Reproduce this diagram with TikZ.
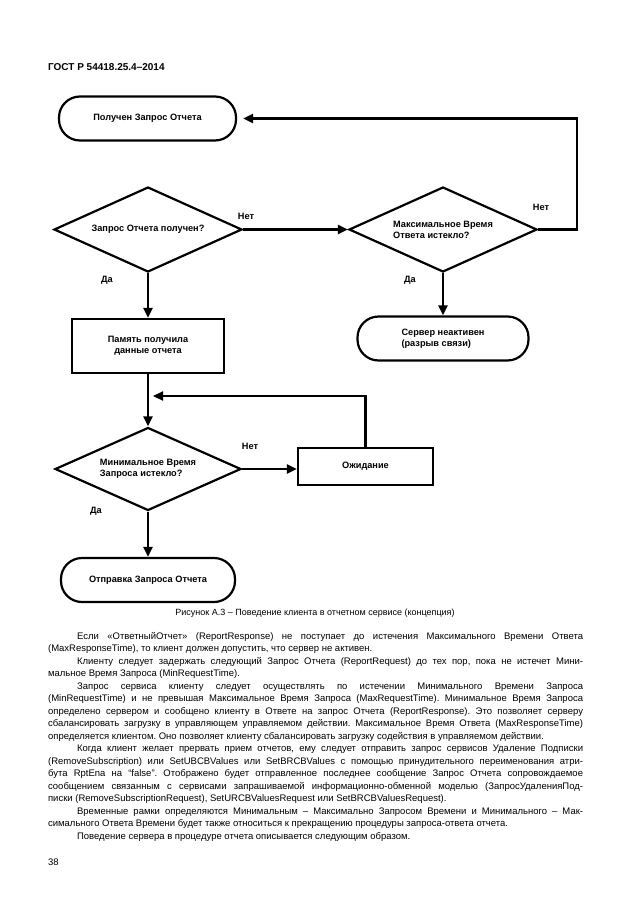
\documentclass[tikz,border=0pt]{standalone}
\usepackage{fontspec}
\setmainfont{Liberation Sans}
\usetikzlibrary{shapes.geometric,arrows.meta}

\begin{document}
\begin{tikzpicture}[x=1pt,y=-1pt,line width=2.2pt,>={Triangle[length=10pt,width=9pt]},
		flow/.style={font=\bfseries\fontsize{9.2}{11}\selectfont,inner sep=0pt},
		term/.style={flow,draw,rounded corners=21pt,minimum width=#1,minimum height=44pt,align=left},
		box/.style={flow,draw,align=center},
		ask/.style={flow,draw,diamond,aspect=2.2,minimum width=188pt,minimum height=85pt,align=left},
		lbl/.style={flow}]
	\useasboundingbox (0,0) rectangle (630,913);
	\node[anchor=west,inner sep=0pt,font=\bfseries\fontsize{10}{12}\selectfont] (head) at (47,67) {ГОСТ Р 54418.25.4–2014};
	% flowchart
	\node[term=177pt] (start) at (147.5,118.5) {Получен Запрос Отчета};
	\node[ask] (got) at (148,229.5) {Запрос Отчета получен?};
	\node[ask] (maxt) at (443,229.5) {Максимальное Время\\Ответа истекло?};
	\node[box,minimum width=152pt,minimum height=54pt] (mem) at (148,346) {Память получила\\данные отчета};
	\node[term=171pt] (down) at (443,338.5) {Сервер неактивен\\(разрыв связи)};
	\node[ask,minimum width=186pt,minimum height=83pt] (mint) at (148,469) {Минимальное Время\\Запроса истекло?};
	\node[box,minimum width=135pt,minimum height=37pt] (wait) at (365.5,466.5) {Ожидание};
	\node[term=174pt] (send) at (148,580) {Отправка Запроса Отчета};
	\coordinate (rt) at ([xshift=340]start.east);
	\coordinate (jn) at (148,396);
	\draw[->] (got) -- (maxt);
	\draw[->] (got) -- (mem);
	\draw[->] (maxt) -- (down);
	\draw[->,shorten >=6pt] (maxt.east) -| (rt) -- (start.east);
	\draw[->] (mem) -- (mint);
	\draw[->] (mint.east) -- (mint.east -| wait.west);
	\draw[->] (wait.north) |- ([xshift=5]jn);
	\draw[->] (mint) -- (send);
	\node[lbl] (no1) at (246,216) {Нет};
	\node[lbl] (no2) at (541,207) {Нет};
	\node[lbl] (no3) at (250,446) {Нет};
	\node[lbl] (yes1) at (107,280) {Да};
	\node[lbl] (yes2) at (410,280) {Да};
	\node[lbl] (yes3) at (96,511) {Да};
	\node[font=\fontsize{9}{11}\selectfont] (cap) at (315,613) {Рисунок А.3 – Поведение клиента в отчетном сервисе (концепция)};
	% text of the page
	\node[anchor=north west,inner sep=0pt,text width=535pt,align=justify,font=\fontsize{9.5}{12.5}\selectfont] (body) at (47,631) {%
		\frenchspacing\hyphenpenalty=10000\relax\exhyphenpenalty=10000\relax
		\hspace*{29pt}Если «ОтветныйОтчет» (ReportResponse) не поступает до истечения Максимального Времени Ответа\linebreak (MaxResponseTime), то клиент должен допустить, что сервер не активен.\par
		\hspace*{29pt}Клиенту следует задержать следующий Запрос Отчета (ReportRequest) до тех пор, пока не истечет Мини-\linebreak мальное Время Запроса (MinRequestTime).\par
		\hspace*{29pt}Запрос сервиса клиенту следует осуществлять по истечении Минимального Времени Запроса\linebreak (MinRequestTime) и не превышая Максимальное Время Запроса (MaxRequestTime). Минимальное Время Запроса\linebreak определено сервером и сообщено клиенту в Ответе на запрос Отчета (ReportResponse). Это позволяет серверу\linebreak сбалансировать загрузку в управляющем управляемом действии. Максимальное Время Ответа (MaxResponseTime)\linebreak определяется клиентом. Оно позволяет клиенту сбалансировать загрузку содействия в управляемом действии.\par
		\hspace*{29pt}Когда клиент желает прервать прием отчетов, ему следует отправить запрос сервисов Удаление Подписки\linebreak (RemoveSubscription) или SetUBCBValues или SetBRCBValues с помощью принудительного переименования атри-\linebreak бута RptEna на “false”. Отображено будет отправленное последнее сообщение Запрос Отчета сопровождаемое\linebreak сообщением связанным с сервисами запрашиваемой информационно-обменной моделью (ЗапросУдаленияПод-\linebreak писки (RemoveSubscriptionRequest), SetURCBValuesRequest или SetBRCBValuesRequest).\par
		\hspace*{29pt}Временные рамки определяются Минимальным – Максимально Запросом Времени и Минимального – Мак-\linebreak симального Ответа Времени будет также относиться к прекращению процедуры запроса-ответа отчета.\par
		\hspace*{29pt}Поведение сервера в процедуре отчета описывается следующим образом.};
	\node[anchor=west,inner sep=0pt,font=\fontsize{9.5}{12}\selectfont] (page) at (47,862) {38};
\end{tikzpicture}
\end{document}
